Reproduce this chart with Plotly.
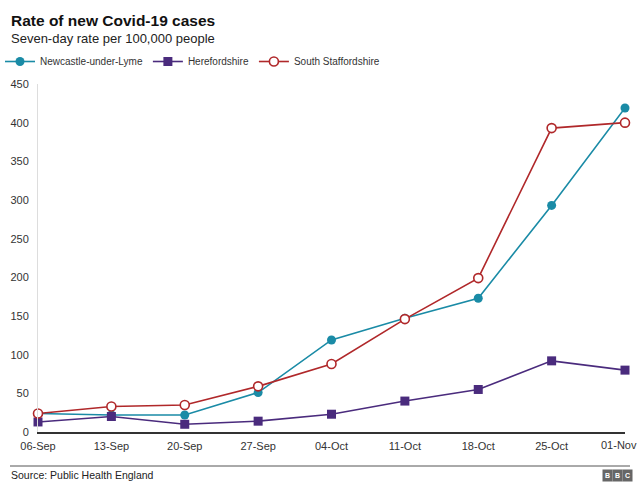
import plotly.graph_objects as go

dates = ["06-Sep", "13-Sep", "20-Sep", "27-Sep", "04-Oct", "11-Oct", "18-Oct", "25-Oct", "01-Nov"]
newcastle = [24, 22, 22, 51, 119, 147, 173, 293, 419]
hereford = [13, 20, 10, 14, 23, 40, 55, 92, 80]
south_staffs = [24, 33, 35, 59, 88, 146, 199, 393, 400]
y_ticks = [0, 50, 100, 150, 200, 250, 300, 350, 400, 450]

W, H = 640, 495
L, R, T, B = 38, 15, 84, 63
pw, ph = W - L - R, H - T - B

def px_x(x):
    return (x - L) / pw

def px_y(y):
    return (H - B - y) / ph

FONT = "Liberation Sans, Arial, Helvetica, sans-serif"
teal = "#1A8BA6"
purple = "#4A2B7D"
red = "#B0282A"

xs = list(range(len(dates)))
# last label is placed right-aligned at the page edge (as in the reference)
tick_text = dates[:-1] + [""]

fig = go.Figure()
fig.add_trace(go.Scatter(x=xs, y=newcastle, name="Newcastle-under-Lyme", mode="lines+markers",
                         line=dict(color=teal, width=1.6),
                         marker=dict(symbol="circle", size=9, color=teal), cliponaxis=False))
fig.add_trace(go.Scatter(x=xs, y=hereford, name="Herefordshire", mode="lines+markers",
                         line=dict(color=purple, width=1.6),
                         marker=dict(symbol="square", size=9, color=purple), cliponaxis=False))
fig.add_trace(go.Scatter(x=xs, y=south_staffs, name="South Staffordshire", mode="lines+markers",
                         line=dict(color=red, width=1.6),
                         marker=dict(symbol="circle", size=9, color="white", line=dict(color=red, width=1.6)),
                         cliponaxis=False))

anns = [
    dict(text="<b>Rate of new Covid-19 cases</b>", x=px_x(9), y=px_y(20), xanchor="left", yanchor="middle",
         font=dict(size=15.5, color="#111", family=FONT)),
    dict(text="Seven-day rate per 100,000 people", x=px_x(9), y=px_y(38), xanchor="left", yanchor="middle",
         font=dict(size=13, color="#222", family=FONT)),
    dict(text="Source: Public Health England", x=px_x(9), y=px_y(475), xanchor="left", yanchor="middle",
         font=dict(size=10.5, color="#222", family=FONT)),
]
for ch, cx in zip(["B", "B", "C"], [607, 617, 627]):
    anns.append(dict(text="<b>" + ch + "</b>", x=px_x(cx), y=px_y(475), xanchor="center", yanchor="middle",
                     font=dict(size=7, color="white", family=FONT), bgcolor="#666", borderpad=1, width=7, height=9))
for a in anns:
    a.update(xref="paper", yref="paper", showarrow=False)
anns.append(dict(text=dates[-1], xref="x", yref="paper", x=xs[-1], y=px_y(445), xanchor="right",
                 yanchor="middle", xshift=14, showarrow=False, font=dict(size=11, color="#333", family=FONT)))

fig.update_layout(
    width=W, height=H,
    margin=dict(l=L, r=R, t=T, b=B, autoexpand=False),
    paper_bgcolor="white", plot_bgcolor="white",
    font=dict(family=FONT, color="#333"),
    annotations=anns,
    showlegend=True,
    legend=dict(orientation="h", xref="container", yref="container", x=-4 / W, y=1 - 47 / H,
                xanchor="left", yanchor="top", font=dict(size=10, color="#333", family=FONT),
                itemwidth=30, tracegroupgap=0, traceorder="normal"),
    shapes=[dict(type="line", xref="paper", yref="paper", x0=px_x(10), x1=px_x(630),
                 y0=px_y(466), y1=px_y(466), line=dict(color="#555", width=1))],
    xaxis=dict(range=[0, 8], tickmode="array", tickvals=xs, ticktext=tick_text, showgrid=False,
               showline=True, linecolor="#333", linewidth=2, ticks="", zeroline=False,
               tickfont=dict(size=11, color="#333"), ticklabelstandoff=3, ticklabeloverflow="allow",
               automargin=False),
    yaxis=dict(range=[0, 450], tickmode="array", tickvals=y_ticks, showgrid=False,
               showline=True, linecolor="#ddd", linewidth=1, zeroline=False, ticks="",
               tickfont=dict(size=11, color="#333"), ticklabelstandoff=6, automargin=False),
)

fig.write_html("out.html", post_script="document.body.style.margin='0';",
               config={"displayModeBar": False})
